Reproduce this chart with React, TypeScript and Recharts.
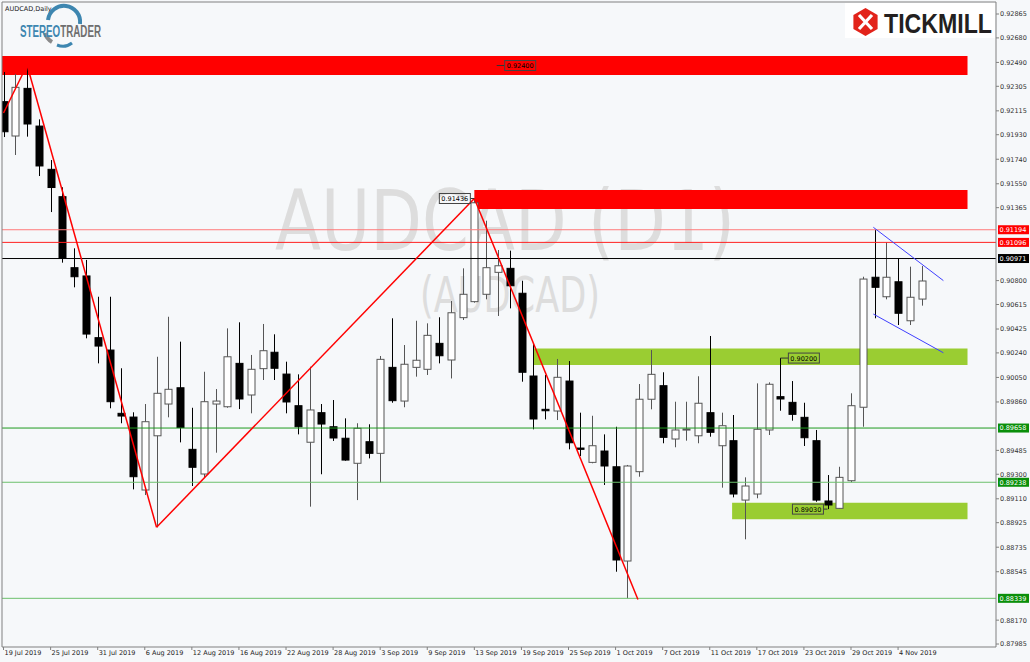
import React from 'react';
import { ComposedChart, Bar, XAxis, YAxis, ReferenceLine, ReferenceArea, ReferenceDot } from 'recharts';

// AUDCAD daily, 19 Jul 2019 .. 6 Nov 2019 (one entry per trading day)
const opens = [0.92186, 0.91920, 0.92289, 0.91997, 0.91662, 0.91450, 0.90900, 0.90836, 0.90358, 0.90262,
  0.89772, 0.89743, 0.89178, 0.89598, 0.89844, 0.89970, 0.89493, 0.89302, 0.89844, 0.89823,
  0.90159, 0.89914, 0.90118, 0.90245, 0.90076, 0.89831, 0.89548, 0.89777, 0.89668, 0.89579,
  0.89385, 0.89552, 0.89462, 0.90128, 0.89867, 0.90128, 0.90113, 0.90314, 0.90185, 0.90513,
  0.90637, 0.90694, 0.90864, 0.90895, 0.90702, 0.90061, 0.89803, 0.89790, 0.90022, 0.89503,
  0.89392, 0.89480, 0.89358, 0.88628, 0.89320, 0.89881, 0.89986, 0.89573, 0.89643, 0.89598,
  0.89777, 0.89521, 0.89560, 0.89100, 0.89147, 0.89643, 0.89901, 0.89857, 0.89741, 0.89560,
  0.89093, 0.89036, 0.89250, 0.89819, 0.90826, 0.90675, 0.90791, 0.90489, 0.90657];
const highs = [0.92416, 0.92400, 0.92470, 0.92049, 0.91734, 0.91523, 0.91050, 0.90960, 0.90675, 0.90675,
  0.90121, 0.89780, 0.89844, 0.90210, 0.90520, 0.90327, 0.89815, 0.90094, 0.89960, 0.90430,
  0.90477, 0.90224, 0.90464, 0.90384, 0.90172, 0.90074, 0.90133, 0.89844, 0.89875, 0.89733,
  0.89695, 0.89687, 0.90216, 0.90508, 0.90301, 0.90489, 0.90469, 0.90516, 0.90642, 0.90895,
  0.91436, 0.91264, 0.91037, 0.91032, 0.90799, 0.90314, 0.90069, 0.90193, 0.90177, 0.89777,
  0.89753, 0.89609, 0.89668, 0.89372, 0.89999, 0.90262, 0.90090, 0.89862, 0.89862, 0.90059,
  0.90371, 0.89777, 0.89759, 0.89276, 0.90004, 0.90012, 0.90200, 0.90022, 0.89854, 0.89643,
  0.89294, 0.89358, 0.89927, 0.90830, 0.91194, 0.91096, 0.90971, 0.90908, 0.90913];
const lows = [0.91912, 0.91773, 0.91915, 0.91610, 0.91331, 0.90939, 0.90748, 0.90353, 0.90159, 0.89811,
  0.89695, 0.89183, 0.89139, 0.88889, 0.89741, 0.89547, 0.89209, 0.89279, 0.89467, 0.89815,
  0.89805, 0.89772, 0.90030, 0.90030, 0.89772, 0.89609, 0.89049, 0.89300, 0.89558, 0.89405,
  0.89100, 0.89423, 0.89235, 0.89854, 0.89819, 0.90056, 0.90069, 0.90159, 0.90042, 0.90495,
  0.90629, 0.90655, 0.90526, 0.90585, 0.90017, 0.89648, 0.89725, 0.89720, 0.89493, 0.89441,
  0.89385, 0.89217, 0.88545, 0.88339, 0.89281, 0.89803, 0.89540, 0.89509, 0.89560, 0.89540,
  0.89591, 0.89196, 0.89121, 0.88796, 0.89114, 0.89604, 0.89792, 0.89715, 0.89519, 0.89087,
  0.89030, 0.89031, 0.89238, 0.89668, 0.90508, 0.90655, 0.90456, 0.90456, 0.90606];
const closes = [0.91953, 0.92297, 0.92013, 0.91688, 0.91521, 0.90973, 0.90830, 0.90386, 0.90293, 0.89862,
  0.89751, 0.89281, 0.89707, 0.89927, 0.89958, 0.89662, 0.89354, 0.89862, 0.89867, 0.90210,
  0.89883, 0.90113, 0.90257, 0.90121, 0.89860, 0.89668, 0.89798, 0.89689, 0.89581, 0.89410,
  0.89656, 0.89462, 0.90190, 0.89870, 0.90152, 0.90183, 0.90376, 0.90218, 0.90551, 0.90694,
  0.91403, 0.90900, 0.90915, 0.90760, 0.90090, 0.89728, 0.89792, 0.90051, 0.89544, 0.89493,
  0.89521, 0.89364, 0.88636, 0.89364, 0.89881, 0.90074, 0.89586, 0.89643, 0.89650, 0.89850,
  0.89625, 0.89676, 0.89147, 0.89209, 0.89648, 0.89997, 0.89883, 0.89764, 0.89583, 0.89100,
  0.89062, 0.89276, 0.89831, 0.90812, 0.90748, 0.90826, 0.90547, 0.90671, 0.90797];

const dateTicks = [0, 4, 8, 12, 16, 20, 24, 28, 32, 36, 40, 44, 48, 52, 56, 60, 64, 68, 72, 76];
const dateLabels = ['19 Jul 2019', '25 Jul 2019', '31 Jul 2019', '6 Aug 2019', '12 Aug 2019', '16 Aug 2019',
  '22 Aug 2019', '28 Aug 2019', '3 Sep 2019', '9 Sep 2019', '13 Sep 2019', '19 Sep 2019', '25 Sep 2019',
  '1 Oct 2019', '7 Oct 2019', '11 Oct 2019', '17 Oct 2019', '23 Oct 2019', '29 Oct 2019', '4 Nov 2019'];
const priceTicks = [0.92865, 0.92680, 0.92490, 0.92305, 0.92115, 0.91930, 0.91740, 0.91550, 0.91365,
  0.90800, 0.90615, 0.90425, 0.90240, 0.90050, 0.89860, 0.89485, 0.89300, 0.89110, 0.88925,
  0.88735, 0.88545, 0.88170, 0.87985];

// horizontal levels
const levels = [0.91194, 0.91096, 0.90971, 0.89658, 0.89238, 0.88339];
// zigzag swing line
const zigIdx = [0, 2, 13, 40, 53.9];
const zigPrice = [0.92098, 0.92470, 0.88889, 0.91436, 0.88330];
// supply / demand zones
const zoneFrom = [-0.13, 40, 45, 61.9];
const zoneTo = [81.9, 81.9, 81.9, 81.9];
const zoneHigh = [0.92540, 0.91502, 0.90275, 0.89080];
const zoneLow = [0.92393, 0.91355, 0.90146, 0.88951];
// falling channel
const chanIdx = [73.9, 79.85];
const chanUpper = [0.91213, 0.90800];
const chanLower = [0.90541, 0.90241];
// price labels
const tagIdx = [40, 66, 70, 41.9];
const tagPrice = [0.91436, 0.90200, 0.89030, 0.92466];
const tagText = ['0.91436', '0.90200', '0.89030', '0.92400'];

const XMIN = -0.13;
const XMAX = 84.32;
const YMIN = 0.87962;
const YMAX = 0.92958;

const candles = opens.map((o, i) => ({
  i,
  open: o,
  high: highs[i],
  low: lows[i],
  close: closes[i],
  range: [lows[i], highs[i]],
}));

const FONT = '"DejaVu Sans", Verdana, sans-serif';
const BG = '#f6f8fa';

const levelStroke = ['#ff7a7a', '#ff2020', '#000000', '#1e9a1e', '#6cc06c', '#6cc06c'];
const levelTag = ['#ff0000', '#ff0000', '#000000', '#0a8f0a', '#0a8f0a', '#0a8f0a'];
const zoneFill = ['#ff0000', '#ff0000', '#9acd32', '#9acd32'];
const tagSide = ['left', 'right', 'left', 'right'];

function Candle(props: any) {
  const { x, y, width, height, payload } = props;
  if (!payload || height == null || x == null) return null;
  const { open, close, high, low } = payload;
  const top = Math.min(y, y + height);
  const h = Math.abs(height);
  const k = high === low ? 0 : h / (high - low);
  const yOf = (v: number) => top + (high - v) * k;
  const cx = Math.round(x + width / 2) + 0.5;
  const up = close >= open;
  const bTop = yOf(Math.max(open, close));
  const bBot = yOf(Math.min(open, close));
  const col = up ? '#555' : '#000';
  return (
    <g>
      <line x1={cx} x2={cx} y1={top} y2={top + h} stroke={col} strokeWidth={1} />
      <rect x={cx - 3.5} y={bTop} width={7} height={Math.max(1, bBot - bTop)} fill={up ? '#ffffff' : '#000000'} stroke={col} strokeWidth={1} />
    </g>
  );
}

function LevelTag(props: any) {
  const { viewBox, text, bg } = props;
  if (!viewBox) return null;
  const x = viewBox.x + viewBox.width + 2;
  const y = viewBox.y;
  return (
    <g>
      <rect x={x} y={y - 4.5} width={31} height={9} fill={bg} />
      <text x={x + 1.5} y={y + 2.4} fontSize={6.5} fontFamily={FONT} fill="#ffffff">{text}</text>
    </g>
  );
}

function PriceBox(props: any) {
  const { cx, cy, text, side } = props;
  if (cx == null) return null;
  const w = 31;
  const bx = side === 'left' ? cx - 4 - w : cx + 8;
  return (
    <g>
      {side === 'left'
        ? <line x1={bx + w} x2={cx} y1={cy} y2={cy} stroke="#333" strokeWidth={1} />
        : <line x1={cx} x2={bx} y1={cy} y2={cy} stroke="#333" strokeWidth={1} />}
      <rect x={bx} y={cy - 5} width={w} height={10} fill="none" stroke="#444" strokeWidth={1} />
      <text x={bx + 2} y={cy + 2.5} fontSize={6.5} fontFamily={FONT} fill="#000">{text}</text>
    </g>
  );
}

function XTick(props: any) {
  const { x, y, payload } = props;
  const k = dateTicks.indexOf(payload.value);
  return (
    <text x={x + 1} y={y + 3} fontSize={6.5} fontFamily={FONT} fill="#222">{k >= 0 ? dateLabels[k] : ''}</text>
  );
}

function YTick(props: any) {
  const { x, y, payload } = props;
  return (
    <text x={x} y={y + 2.4} fontSize={6.5} fontFamily={FONT} fill="#333">{payload.value.toFixed(5)}</text>
  );
}

function Watermark() {
  return (
    <svg width={1030} height={662} style={{ position: 'absolute', left: 0, top: 0 }}>
      <rect x={0} y={0} width={1030} height={662} fill={BG} />
      <text x={275} y={250} fontSize={84} fontFamily={FONT} fill="#dddddd" textLength={460} lengthAdjust="spacingAndGlyphs">AUDCAD (D1)</text>
      <text x={420} y={312} fontSize={50} fontFamily={FONT} fill="#dddddd" textLength={180} lengthAdjust="spacingAndGlyphs">(AUDCAD)</text>
    </svg>
  );
}

function Logos() {
  return (
    <svg width={1030} height={662} style={{ position: 'absolute', left: 0, top: 0, pointerEvents: 'none' }}>
      <text x={5} y={11} fontSize={6.5} fontFamily={FONT} fill="#222">AUDCAD,Daily</text>
      <path d="M 48 20 A 15 15 0 0 1 80 24" fill="none" stroke="#3d86b0" strokeWidth={4} />
      <path d="M 52 42 A 15 15 0 0 1 45 33" fill="none" stroke="#8a8a8a" strokeWidth={4} />
      <path d="M 57 45 A 15 15 0 0 0 72 43" fill="none" stroke="#3d86b0" strokeWidth={3} />
      <text x={20} y={37} fontSize={16} fontWeight="bold" fontFamily='"Liberation Sans Narrow", "Liberation Sans", sans-serif'
        textLength={81} lengthAdjust="spacingAndGlyphs">
        <tspan fill="#3d86b0">STEREO</tspan><tspan fill="#6f6f6f">TRADER</tspan>
      </text>
      <rect x={845} y={3} width={150} height={35} fill="#ffffff" />
      <polygon points="865.5,8 877.6,15 877.6,29 865.5,36 853.4,29 853.4,15" fill="#e2231a" />
      <path d="M 859 15 L 872 29 M 872 15 L 859 29" stroke="#ffffff" strokeWidth={3.2} />
      <text x={884} y={33} fontSize={28} fontWeight="bold" fontFamily='"Liberation Sans", Arial, sans-serif' textLength={108} lengthAdjust="spacingAndGlyphs" fill="#231f20">TICKMILL</text>
    </svg>
  );
}

export default function App() {
  return (
    <div style={{ position: 'absolute', left: 0, top: 0, width: 1030, height: 662, background: BG, overflow: 'hidden' }}>
      <Watermark />
      <div style={{ position: 'absolute', left: 0, top: 0 }}>
        <ComposedChart width={1030} height={662} data={candles} margin={{ top: 2, right: 0, bottom: 0, left: 2 }}>
          <XAxis dataKey="i" type="number" domain={[XMIN, XMAX]} allowDataOverflow ticks={dateTicks} interval={0}
            height={15} tick={<XTick />} tickSize={3} stroke="#808080" />
          <YAxis type="number" orientation="right" domain={[YMIN, YMAX]} allowDataOverflow ticks={priceTicks} interval={0}
            width={34} tick={<YTick />} tickSize={3} tickMargin={1} stroke="#808080" />
          {zoneFrom.map((x1, k) => (
            <ReferenceArea key={'z' + k} x1={x1} x2={zoneTo[k]} y1={zoneLow[k]} y2={zoneHigh[k]}
              fill={zoneFill[k]} fillOpacity={1} stroke="none" ifOverflow="hidden" />
          ))}
          {levels.map((p, k) => (
            <ReferenceLine key={'l' + k} y={p} stroke={levelStroke[k]} strokeWidth={1}
              label={<LevelTag text={p.toFixed(5)} bg={levelTag[k]} />} />
          ))}
          <Bar dataKey="range" barSize={8} shape={<Candle />} isAnimationActive={false} />
          {zigIdx.slice(1).map((x2, k) => (
            <ReferenceLine key={'zz' + k} segment={[{ x: zigIdx[k], y: zigPrice[k] }, { x: x2, y: zigPrice[k + 1] }]}
              stroke="#ff0000" strokeWidth={1.5} />
          ))}
          <ReferenceLine segment={[{ x: chanIdx[0], y: chanUpper[0] }, { x: chanIdx[1], y: chanUpper[1] }]} stroke="#3f3fff" strokeWidth={1} />
          <ReferenceLine segment={[{ x: chanIdx[0], y: chanLower[0] }, { x: chanIdx[1], y: chanLower[1] }]} stroke="#3f3fff" strokeWidth={1} />
          {tagIdx.map((x, k) => (
            <ReferenceDot key={'t' + k} x={x} y={tagPrice[k]} r={0}
              shape={(p: any) => <PriceBox cx={p.cx} cy={p.cy} text={tagText[k]} side={tagSide[k]} />} />
          ))}
          <ReferenceLine x={XMIN} stroke="#808080" ifOverflow="visible" />
          <ReferenceLine y={YMAX} stroke="#808080" ifOverflow="visible" />
        </ComposedChart>
      </div>
      <Logos />
    </div>
  );
}
